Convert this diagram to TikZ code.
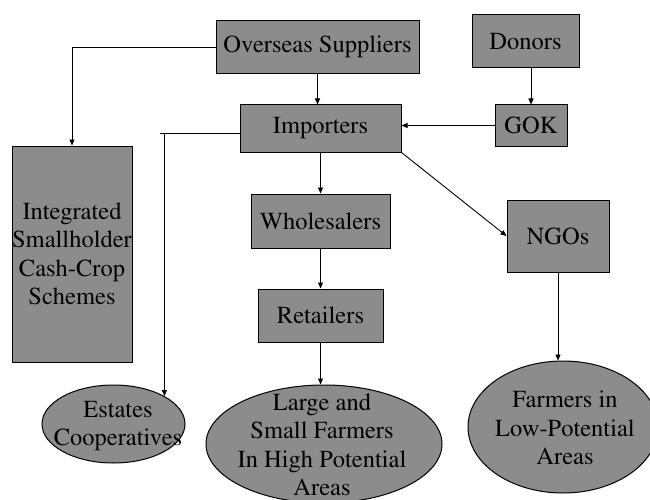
\documentclass[tikz,border=0pt]{standalone}
\usepackage[T1]{fontenc}
\usepackage{times}
\usetikzlibrary{shapes.geometric,arrows.meta}
\definecolor{boxgray}{RGB}{140,140,140}

\begin{document}
\begin{tikzpicture}[x=1pt,y=-1pt,
    every node/.style={font=\rmfamily\fontsize{24.5}{28.5}\selectfont},
    box/.style={draw,fill=boxgray,line width=1pt,inner sep=0pt,align=center},
    oval/.style={box,ellipse},
    label/.style={align=center,inner sep=0pt},
    flow/.style={-{Triangle[length=6pt,width=5pt]},line width=0.9pt}]
    \useasboundingbox (0,0) rectangle (650,500);
    % rectangles
    \node[box,minimum width=203,minimum height=53] (os) at (317.5,47) {Overseas Suppliers};
    \node[box,minimum width=107,minimum height=53] (don) at (525.5,41.5) {Donors};
    \node[box,minimum width=161,minimum height=47] (imp) at (320.5,128.5) {Importers};
    \node[box,minimum width=72,minimum height=41] (gok) at (531,125.5) {GOK};
    \node[box,minimum width=120,minimum height=216] (ish) at (72,254) {Integrated\\Smallholder\\Cash-Crop\\Schemes};
    \node[box,minimum width=139,minimum height=54] (whl) at (320.5,221) {Wholesalers};
    \node[box,minimum width=102,minimum height=72] (ngo) at (558,236) {NGOs};
    \node[box,minimum width=125,minimum height=53] (ret) at (320.5,315.5) {Retailers};
    % ellipses, text set on top
    \node[oval,minimum width=143,minimum height=78] (est) at (113.5,424) {};
    \node[label] at (118,426) {Estates\\Cooperatives};
    \node[oval,minimum width=236,minimum height=118] (lsf) at (324,444) {};
    \node[label] at (322,445) {Large and\\Small Farmers\\In High Potential\\Areas};
    \node[oval,minimum width=190,minimum height=132] (flp) at (563,427) {};
    \node[label] at (565,428) {Farmers in\\Low-Potential\\Areas};
    % connectors
    \draw[flow] (os.west) -| (ish.north);
    \draw[flow] (os.south) -- (os.south |- imp.north);
    \draw[flow] (gok.north |- don.south) -- (gok.north);
    \draw[flow] (gok.west) -- (gok.west -| imp.east);
    \draw[line width=0.9pt] ([yshift=-5pt]imp.west) -- ([yshift=-5pt,xshift=-4pt]imp.west -| est.north east);
    \draw[flow] ([yshift=-5pt]imp.west -| est.north east) -- (est.north east);
    \draw[flow] (imp.south) -- (whl.north);
    \draw[flow] (imp.south east) -- (ngo.west);
    \draw[flow] (whl.south) -- (ret.north);
    \draw[flow] (ret.south) -- (ret.south |- lsf.north);
    \draw[flow] (ngo.south) -- (ngo.south |- flp.north);
\end{tikzpicture}
\end{document}
